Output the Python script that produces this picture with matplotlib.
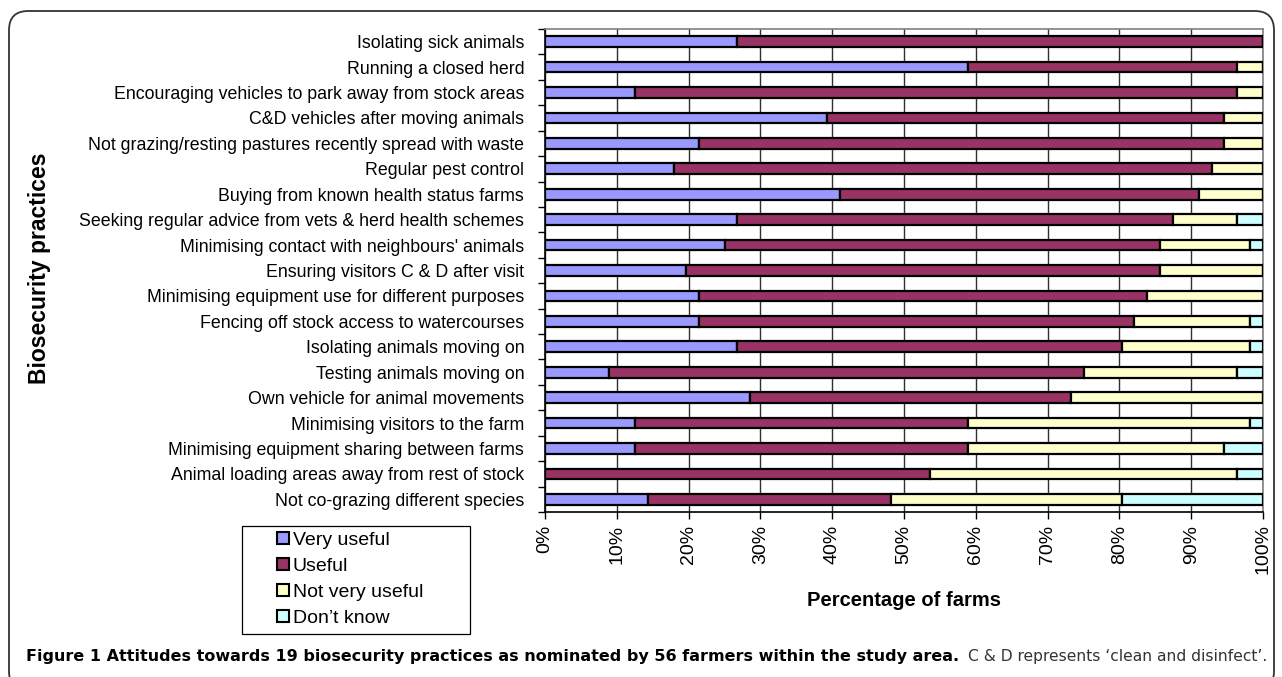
import matplotlib
matplotlib.use("Agg")
import matplotlib.pyplot as plt
from matplotlib.patches import FancyBboxPatch, Patch, Rectangle
from matplotlib.ticker import PercentFormatter, FixedLocator
import numpy as np

plt.rcParams['font.family'] = ['Liberation Sans', 'DejaVu Sans']

categories = [
    "Isolating sick animals",
    "Running a closed herd",
    "Encouraging vehicles to park away from stock areas",
    "C&D vehicles after moving animals",
    "Not grazing/resting pastures recently spread with waste",
    "Regular pest control",
    "Buying from known health status farms",
    "Seeking regular advice from vets & herd health schemes",
    "Minimising contact with neighbours' animals",
    "Ensuring visitors C & D after visit",
    "Minimising equipment use for different purposes",
    "Fencing off stock access to watercourses",
    "Isolating animals moving on",
    "Testing animals moving on",
    "Own vehicle for animal movements",
    "Minimising visitors to the farm",
    "Minimising equipment sharing between farms",
    "Animal loading areas away from rest of stock",
    "Not co-grazing different species",
]

very_useful = [26.8, 58.9, 12.5, 39.3, 21.4, 17.9, 41.1, 26.8, 25.0, 19.6,
               21.4, 21.4, 26.8, 8.9, 28.6, 12.5, 12.5, 0.0, 14.3]
useful = [73.2, 37.5, 83.9, 55.3, 73.2, 75.0, 50.0, 60.7, 60.7, 66.1,
          62.5, 60.7, 53.6, 66.1, 44.6, 46.4, 46.4, 53.6, 33.9]
not_very_useful = [0.0, 3.6, 3.6, 5.4, 5.4, 7.1, 8.9, 8.9, 12.5, 14.3,
                   16.1, 16.1, 17.8, 21.4, 26.8, 39.3, 35.7, 42.8, 32.2]
dont_know = [0.0, 0.0, 0.0, 0.0, 0.0, 0.0, 0.0, 3.6, 1.8, 0.0,
             0.0, 1.8, 1.8, 3.6, 0.0, 1.8, 5.4, 3.6, 19.6]

series_names = ["Very useful", "Useful", "Not very useful", "Don\u2019t know"]
series_colors = ["#9999FF", "#993366", "#FFFFCC", "#CCFFFF"]
x_ticks = list(range(0, 101, 10))

fig = plt.figure(figsize=(12.82, 6.77), dpi=100)
W, H = 1282, 677
ax = fig.add_axes([545 / W, 1 - 512 / H, (1263 - 545) / W, (512 - 29) / H])

n = len(categories)
y = np.arange(n)[::-1]
series = [very_useful, useful, not_very_useful, dont_know]
left = np.zeros(n)
for vals, col in zip(series, series_colors):
    v = np.array(vals, dtype=float)
    ax.barh(y, v, left=left, height=0.42, color=col, edgecolor="black",
            linewidth=1.6, zorder=3)
    left += v

ax.set_xlim(0, 100)
ax.set_ylim(-0.5, n - 0.5)
ax.xaxis.set_major_locator(FixedLocator(x_ticks))
ax.xaxis.set_major_formatter(PercentFormatter(decimals=0))
ax.grid(axis="x", color="#303030", linewidth=1.0, zorder=0)
ax.set_yticks(y)
ax.set_yticklabels(categories, fontsize=12.8)
ax.yaxis.set_minor_locator(FixedLocator(np.arange(-0.5, n, 1.0)))
ax.tick_params(axis="y", which="major", length=0, pad=15)
ax.tick_params(axis="y", which="minor", length=5, width=1.0, direction="out")
ax.tick_params(axis="x", which="major", length=5, width=1.0, direction="out",
               labelrotation=90, labelsize=14, pad=4)
for lbl in ax.get_xticklabels():
    lbl.set_verticalalignment("top")

ax.spines["left"].set_color("black")
ax.spines["bottom"].set_color("black")
ax.spines["top"].set_color("#808080")
ax.spines["right"].set_color("#808080")
for s in ax.spines.values():
    s.set_linewidth(1.2)

fig.text(904 / W, 1 - 600 / H, "Percentage of farms", ha="center", va="center",
         fontsize=14.5, fontweight="bold")
fig.text(40 / W, 1 - 268 / H, "Biosecurity practices", ha="center", va="center",
         rotation=90, fontsize=16.5, fontweight="bold")

# Legend box
fig.patches.append(Rectangle((242 / W, 1 - 634 / H), (470 - 242) / W, (634 - 526) / H,
                             transform=fig.transFigure, fill=False,
                             edgecolor="black", linewidth=0.9))
handles = [Patch(facecolor=c, edgecolor="black", linewidth=1.5) for c in series_colors]
leg = fig.legend(handles, series_names, loc="upper left",
                 bbox_to_anchor=(277 / W, 1 - 532 / H), frameon=False,
                 fontsize=14, handlelength=0.6, handleheight=0.6,
                 handletextpad=0.2, labelspacing=0.46, borderpad=0.0,
                 borderaxespad=0)

# Caption
fig.text(26 / W, 1 - 657 / H,
         "Figure 1 Attitudes towards 19 biosecurity practices as nominated by 56 farmers within the study area.",
         ha="left", va="center", fontsize=11.5, fontweight="bold",
         family=["DejaVu Sans"])
fig.text(1267 / W, 1 - 657 / H,
         "C & D represents \u2018clean and disinfect\u2019.",
         ha="right", va="center", fontsize=11.2, color="#333333",
         family=["DejaVu Sans"])

frame = FancyBboxPatch((9 / W, -0.02), (1274 - 9) / W, (1 - 11 / H) + 0.02,
                       boxstyle="round,pad=0,rounding_size=0.015",
                       transform=fig.transFigure, fill=False,
                       edgecolor="#333333", linewidth=1.3, mutation_aspect=W / H)
fig.patches.append(frame)

fig.savefig("out.png", dpi=100)
